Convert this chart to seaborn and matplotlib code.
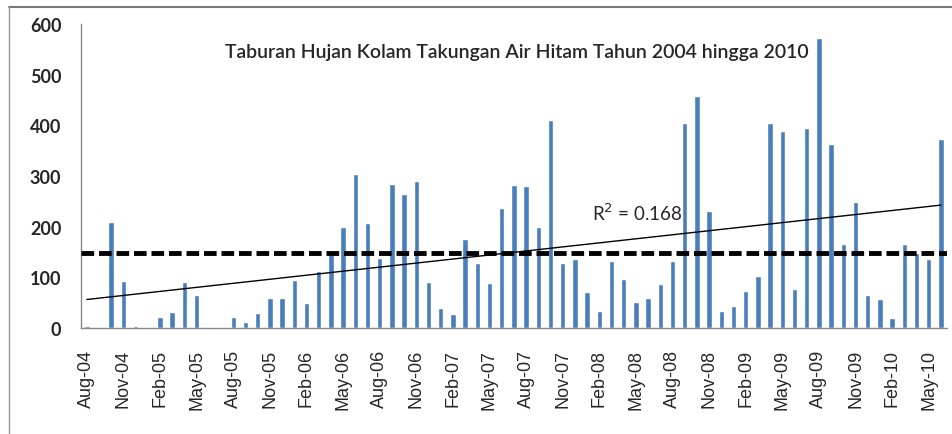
import numpy as np
import pandas as pd
import matplotlib
matplotlib.use('Agg')
import matplotlib.pyplot as plt
import seaborn as sns
from matplotlib.lines import Line2D

# monthly rainfall, Aug-04 .. Jun-10 (mm)
months = pd.date_range('2004-08-01', '2010-06-01', freq='MS').strftime('%b-%y').tolist()
rainfall = [3, 0, 210, 93, 3,
            0, 21, 32, 91, 66, 0, 0, 21, 11, 30, 60, 60,
            95, 49, 112, 146, 200, 304, 208, 138, 285, 265, 291, 91,
            39, 28, 175, 128, 89, 237, 283, 280, 200, 411, 128, 136,
            71, 33, 133, 97, 51, 60, 86, 133, 404, 458, 231, 34,
            43, 73, 102, 404, 389, 76, 394, 572, 363, 166, 249, 66,
            58, 20, 166, 148, 136, 373]
mean_rain = 148
r2_label = 'R$^2$ = 0.168'
title = 'Taburan Hujan Kolam Takungan Air Hitam Tahun 2004 hingga 2010'

df = pd.DataFrame({'month': months, 'rain': rainfall})

sns.set_style('white')
fig = plt.figure(figsize=(9.52, 4.35), dpi=100)
ax = fig.add_axes([0.0848, 0.2437, 0.91, 0.6988])

sns.barplot(data=df, x='month', y='rain', color='#4a7ebb', width=0.45,
            saturation=1, ax=ax)

# mean line and linear trend
xs = np.arange(len(rainfall))
ax.axhline(mean_rain, color='black', lw=3.5, ls=(0, (2.6, 1.0)), zorder=3)
slope, icept = np.polyfit(xs, rainfall, 1)
ax.plot(xs, slope * xs + icept, color='black', lw=1, zorder=3)
ax.text(41.4, 208, r2_label, fontsize=13.5, family='Lato', ha='left', va='bottom')
ax.text(35.2, 545, title, fontsize=14, family='Lato', fontweight='semibold',
        ha='center', va='center')

ax.set_xlim(-0.5, len(rainfall) - 0.5)
ax.set_ylim(0, 600)
ax.set_yticks(range(0, 601, 100))
ax.set_yticklabels([str(v) for v in range(0, 601, 100)], fontsize=13,
                   family='Lato', fontweight='bold')

# labels on every 3rd month, tick marks on category boundaries
ax.set_xticks(xs[::3])
ax.set_xticklabels([months[i] for i in xs[::3]], rotation=90, fontsize=13,
                   family=['Liberation Sans Narrow', 'Liberation Sans'])
ax.set_xticks(np.arange(-0.5, len(rainfall), 3), minor=True)
ax.tick_params(axis='x', which='major', length=0, pad=15)
ax.tick_params(axis='x', which='minor', length=5, color='#888888', direction='out')
ax.tick_params(axis='y', length=6, color='#888888', direction='out', pad=8)
ax.set_xlabel('')
ax.set_ylabel('')

for s in ['top', 'right']:
    ax.spines[s].set_visible(False)
for s in ['left', 'bottom']:
    ax.spines[s].set_color('#888888')
    ax.spines[s].set_linewidth(1)

# chart frame
fig.add_artist(Line2D([9 / 952, 1], [1 - 8 / 435, 1 - 8 / 435], color='#777777', lw=1.5,
                      transform=fig.transFigure))
fig.add_artist(Line2D([9 / 952, 9 / 952], [0, 1 - 8 / 435], color='#999999', lw=1,
                      transform=fig.transFigure))

fig.savefig('out.png', dpi=100)
